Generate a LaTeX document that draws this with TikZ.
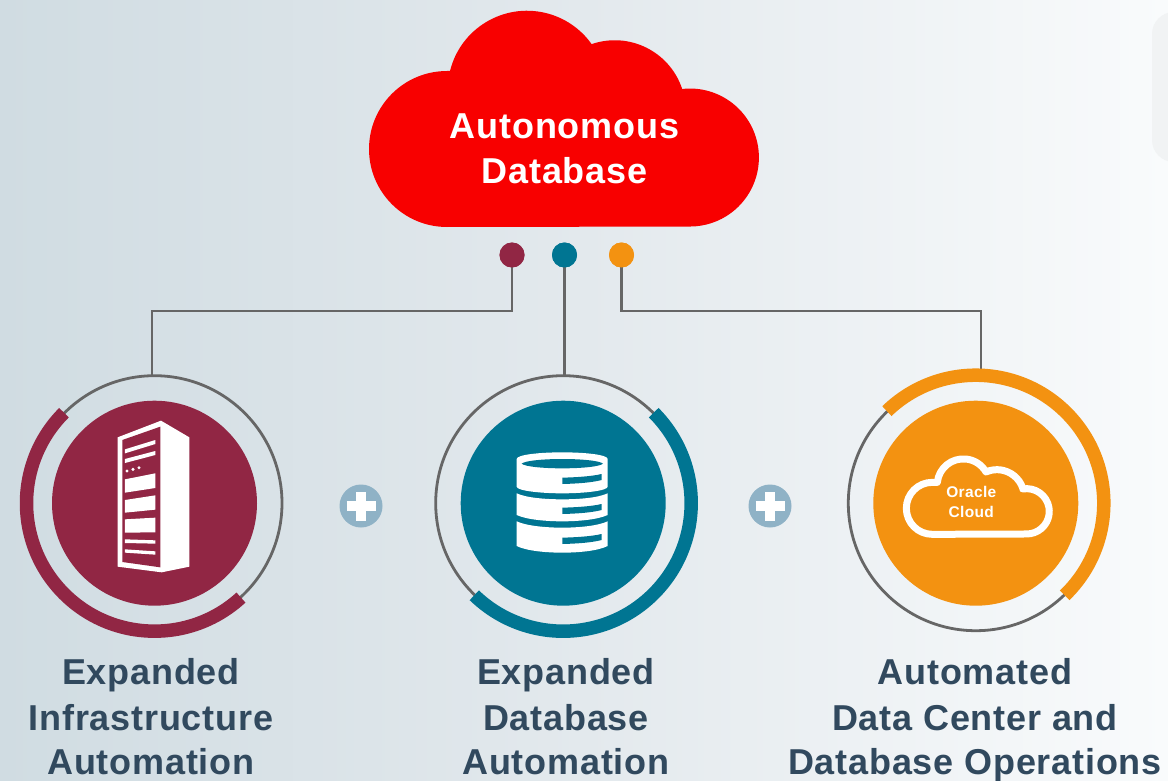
\documentclass[tikz,border=0pt]{standalone}
\usepackage{fontspec}
\setmainfont{Liberation Sans}[LetterSpace=2.2]
\definecolor{maroon}{HTML}{912644}
\definecolor{teal2}{HTML}{007592}
\definecolor{orange2}{HTML}{F39211}
\definecolor{red2}{HTML}{F80000}
\definecolor{linegray}{HTML}{666666}
\definecolor{plusblue}{HTML}{8FB2C6}
\definecolor{labelblue}{HTML}{31495E}
\definecolor{bgl}{HTML}{D0DCE2}
\definecolor{bgm}{HTML}{E3E9ED}
\definecolor{bgr}{HTML}{F9FBFC}
\definecolor{panel}{HTML}{F1F3F4}
\tikzset{
  x=1pt,y=-1pt,
  conn/.style={draw=linegray,line width=2.8pt},
  ring/.style={draw=linegray,line width=2.8pt},
  thick arc/.style={line width=13.5pt},
  dot/.style={circle,inner sep=0pt,minimum size=25pt},
  disc/.style={circle,inner sep=0pt,minimum size=205pt},
  plusdot/.style={circle,fill=plusblue,inner sep=0pt,minimum size=43pt},
  label/.style={text=labelblue,font=\fontsize{36}{45}\selectfont\bfseries,inner sep=0pt,anchor=base},
}
\begin{document}
\begin{tikzpicture}
\useasboundingbox (0,0) rectangle (1168,781);
\shade[left color=bgl,right color=bgm] (0,0) rectangle (584,781);
\shade[left color=bgm,right color=bgr] (584,0) rectangle (1168,781);
\fill[panel,rounded corners=22pt] (1152,12) rectangle (1200,162);
% big cloud
\fill[red2] (447,227) arc[start angle=90,end angle=270,radius=78] -- (450,71)
  arc[start angle=193.9,end angle=324.7,radius=79.3] -- (592,44)
  arc[start angle=251.3,end angle=341.1,radius=71] -- (682,89)
  arc[start angle=263.4,end angle=450,radius=69] -- cycle;
\node[text=white,font=\fontsize{36}{45}\selectfont\bfseries,inner sep=0pt,anchor=base] (t1) at (564.5,139) {Autonomous};
\node[text=white,font=\fontsize{36}{45}\selectfont\bfseries,inner sep=0pt,anchor=base] (t2) at (564.5,184) {Database};
% discs and dots
\node[dot,fill=maroon] (d1) at (512,255) {};
\node[dot,fill=teal2] (d2) at (564.5,255) {};
\node[dot,fill=orange2] (d3) at (621.5,255) {};
\node[disc,fill=maroon] (c1) at (154.5,503.2) {};
\node[disc,fill=teal2] (c2) at (563.2,503.2) {};
\node[disc,fill=orange2] (c3) at (975.8,503.2) {};
% rings
\draw[ring] (c1) circle[radius=127.5];
\draw[ring] (c2) circle[radius=127.5];
\draw[ring] (c3) circle[radius=127.5];
% connectors
\coordinate (r1) at (152,376);
\coordinate (r2) at (564.5,376);
\coordinate (r3) at (981,369);
\draw[conn] (d1.center) -- (512,311) -| (r1);
\draw[conn] (d2.center) -- (r2);
\draw[conn] (d3.center) -- (621.5,311) -| (r3);
\node[dot,fill=maroon] at (d1) {};
\node[dot,fill=teal2] at (d2) {};
\node[dot,fill=orange2] at (d3) {};
% thick arcs (angles measured clockwise on screen)
\draw[maroon,thick arc] ([shift={(-135:128)}]c1) arc[start angle=-135,end angle=-312.5,radius=128];
\draw[teal2,thick arc] ([shift={(134:128)}]c2) arc[start angle=134,end angle=-45,radius=128];
\draw[orange2,thick arc] ([shift={(46:128)}]c3) arc[start angle=46,end angle=-134,radius=128];
% plus signs
\node[plusdot] (p1) at (361,506) {};
\node[plusdot] (p2) at (770,506) {};
\foreach \p in {p1,p2}{
  \draw[white,line width=9.5pt] ([xshift=-14.5pt]\p.center) -- ([xshift=14.5pt]\p.center);
  \draw[white,line width=9.5pt] ([yshift=-14.5pt]\p.center) -- ([yshift=14.5pt]\p.center);
}
% server icon
\begin{scope}[shift={(0,360)},x=0.33333pt,y=-0.33333pt]
\fill[white] (353,232) -- (483,182) -- (568,232) -- (568,620) -- (485,637) -- (353,620) -- cycle;
\fill[maroon] (367,240) -- (481,200) -- (481,622) -- (367,606) -- cycle;
\fill[white] (375,268) -- (466,240) -- (466,252) -- (375,280) -- cycle;
\fill[white] (375,297) -- (466,273) -- (466,285) -- (375,309) -- cycle;
\fill[white] (381,333) circle[radius=5] (399,328) circle[radius=5] (417,323) circle[radius=5];
\fill[white] (375,358) -- (466,340) -- (466,384) -- (375,398) -- cycle;
\fill[white] (375,420) -- (466,406) -- (466,449) -- (375,458) -- cycle;
\fill[white] (375,478) -- (466,473) -- (466,517) -- (375,518) -- cycle;
\fill[white] (375,538) -- (466,541) -- (466,551) -- (375,549) -- cycle;
\fill[white] (375,568) -- (466,574) -- (466,584) -- (375,578) -- cycle;
\end{scope}
% database icon
\begin{scope}[shift={(420,360)},x=0.33333pt,y=-0.33333pt]
\fill[white] (290,297) .. controls (290,284) and (360,277) .. (427,277) .. controls (494,277) and (563,284) .. (563,297)
  -- (563,380) .. controls (563,392) and (494,400) .. (427,400) .. controls (360,400) and (290,392) .. (290,380) -- cycle;
\fill[teal2] (305,311) .. controls (315,302) and (370,297) .. (427,297) .. controls (484,297) and (539,302) .. (549,311)
  .. controls (539,320) and (484,325) .. (427,325) .. controls (370,325) and (315,320) .. (305,311) -- cycle;
\fill[white] (290,400) .. controls (320,414) and (380,418) .. (427,418) .. controls (474,418) and (533,414) .. (563,400)
  -- (563,465) .. controls (533,479) and (474,484) .. (427,484) .. controls (380,484) and (320,479) .. (290,465) -- cycle;
\fill[white] (290,484) .. controls (320,498) and (380,503) .. (427,503) .. controls (474,503) and (533,498) .. (563,484)
  -- (563,558) .. controls (533,573) and (474,578) .. (427,578) .. controls (380,578) and (320,573) .. (290,558) -- cycle;
\foreach \dy in {0,90,180}{
  \fill[teal2] (427,353+\dy) .. controls (470,352+\dy) and (515,349+\dy) .. (545,342+\dy) -- (545,360+\dy)
    .. controls (515,368+\dy) and (470,371+\dy) .. (427,372+\dy) -- cycle;
}
\end{scope}
% oracle cloud icon
\begin{scope}[shift={(830,360)},x=0.33333pt,y=-0.33333pt]
\draw[white,line width=7pt,line join=round] (307,523) arc[start angle=90,end angle=270,radius=78] -- (322,367)
  arc[start angle=186,end angle=330,radius=78.5] -- (470,335)
  arc[start angle=248,end angle=341,radius=82] -- (578,387)
  arc[start angle=260,end angle=450,radius=68] -- cycle;
\node[text=white,font=\fontsize{15.5}{20}\selectfont\bfseries,inner sep=0pt,anchor=base] (oc1) at (424,412) {Oracle};
\node[text=white,font=\fontsize{15.5}{20}\selectfont\bfseries,inner sep=0pt,anchor=base] (oc2) at (424,472) {Cloud};
\end{scope}
% labels
\node[label] (l11) at (151,684) {Expanded};
\node[label] (l12) at (151,730) {Infrastructure};
\node[label] (l13) at (151,774) {Automation};
\node[label] (l21) at (566,684) {Expanded};
\node[label] (l22) at (566,730) {Database};
\node[label] (l23) at (566,774) {Automation};
\node[label] (l31) at (975,684) {Automated};
\node[label] (l32) at (975,730) {Data Center and};
\node[label] (l33) at (975,774) {Database Operations};
\end{tikzpicture}
\end{document}
